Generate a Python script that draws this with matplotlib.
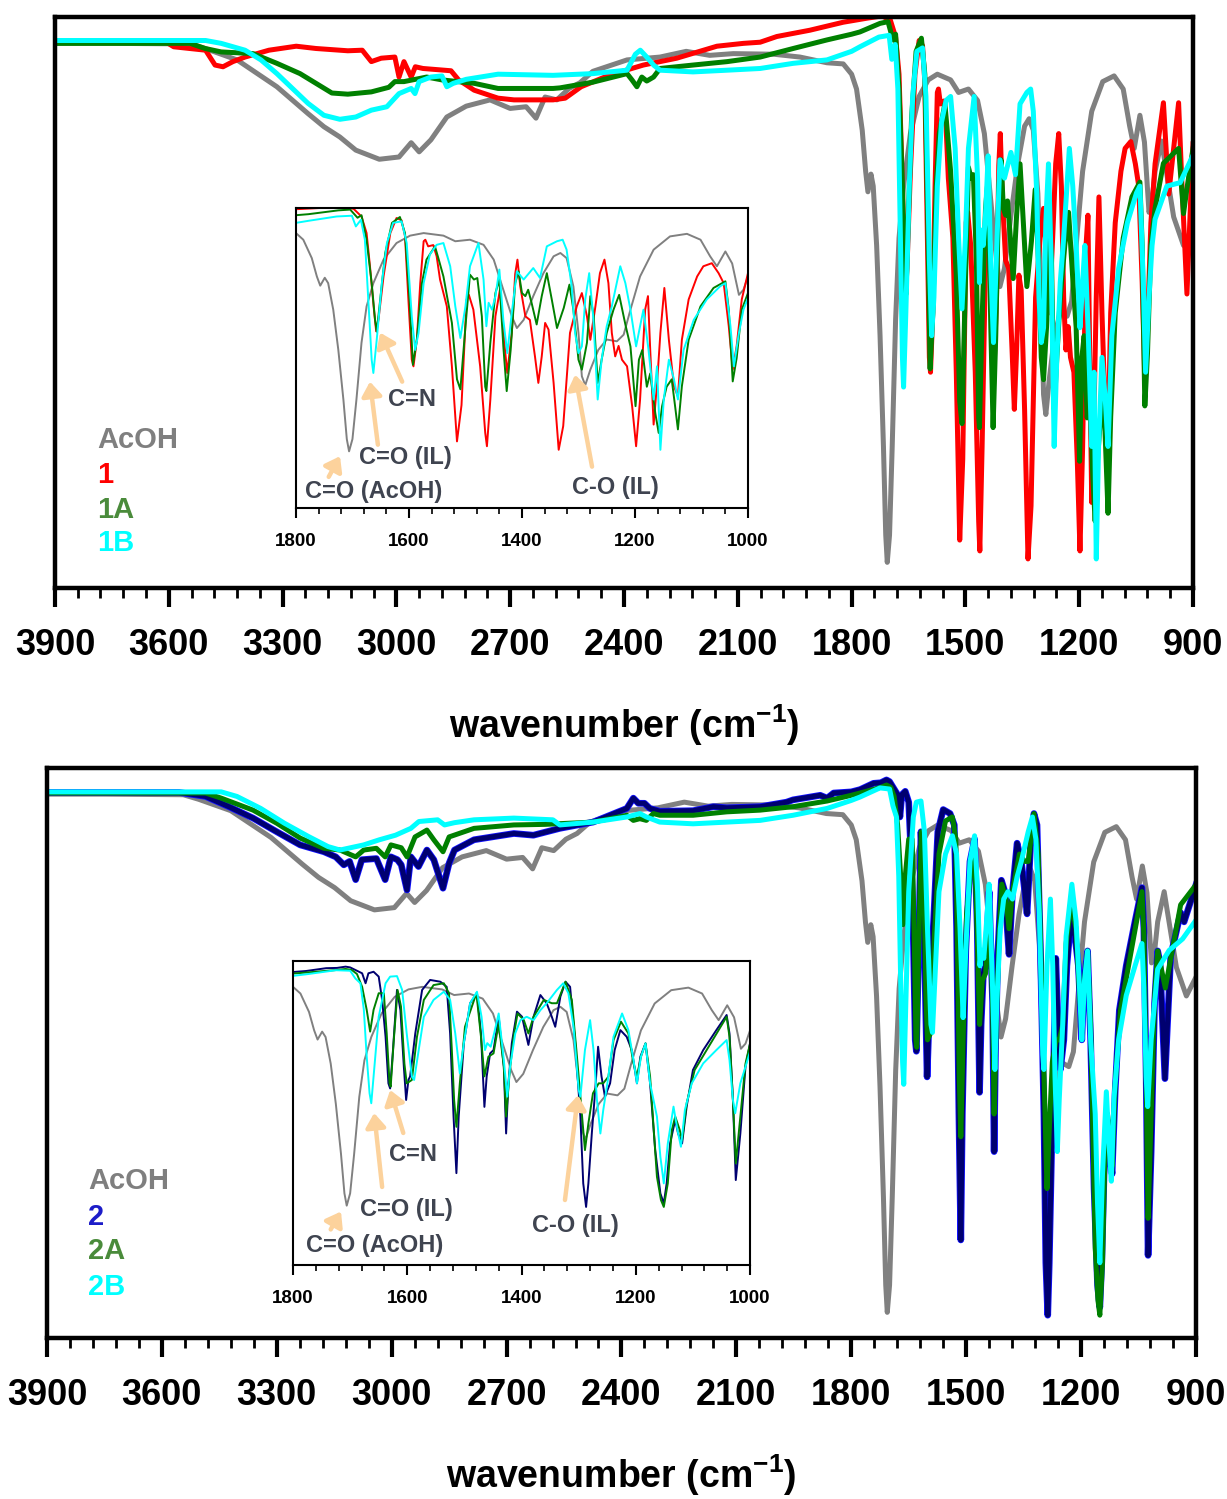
import matplotlib
matplotlib.use('Agg')
import matplotlib.pyplot as plt
import matplotlib.patheffects as pe
from matplotlib.ticker import MultipleLocator

# ---- fonts ----
plt.rcParams['font.family'] = ['Liberation Sans', 'DejaVu Sans']
plt.rcParams['font.weight'] = 'bold'
plt.rcParams['mathtext.fontset'] = 'custom'
plt.rcParams['mathtext.rm'] = 'Liberation Sans:bold'
plt.rcParams['mathtext.bf'] = 'Liberation Sans:bold'

# ---- colours ----
C_ACOH = '#808080'
C_RED = '#ff0000'
C_GREEN = '#008000'
C_CYAN = '#00ffff'
C_NAVY = '#000070'
C_ARROW = '#fcd29c'
C_NOTE = '#3f4450'

# ---- spectra (wavenumber, transmittance in % of plot height) ----
ACOH = [(3900, 95.4), (3750, 95.4), (3544, 95.3), (3504, 94.5), (3420, 92.5), (3315, 87.8), (3233, 83.1),
        (3191, 80.8), (3149, 79.0), (3107, 76.7), (3045, 75.1), (2993, 75.5), (2961, 78.0), (2940, 76.4),
        (2909, 78.5), (2867, 82.5), (2816, 84.4), (2753, 85.5), (2700, 84.0), (2658, 84.3), (2632, 82.3),
        (2608, 86.0), (2577, 85.5), (2545, 87.5), (2516, 88.5), (2482, 90.5), (2392, 92.5), (2305, 93.0),
        (2236, 94.0), (2174, 93.3), (2112, 93.6), (2006, 93.5), (1936, 93.0), (1865, 92.0), (1822, 91.8),
        (1800, 90.0), (1787, 87.4), (1772, 80.2), (1763, 73.0), (1757, 69.4), (1749, 72.5), (1743, 70.4),
        (1734, 60.0), (1725, 44.2), (1716, 24.7), (1710, 9.3), (1706, 4.5), (1700, 9.3), (1693, 24.7),
        (1684, 47.0), (1675, 61.3), (1663, 70.4), (1645, 79.6), (1622, 86.1), (1598, 89.0), (1574, 90.0),
        (1539, 89.0), (1518, 86.8), (1492, 87.4), (1468, 85.4), (1450, 79.6), (1433, 67.8), (1418, 57.4),
        (1409, 52.8), (1397, 56.0), (1380, 65.3), (1362, 74.3), (1344, 80.9), (1332, 82.2), (1321, 80.2),
        (1309, 69.1), (1300, 50.9), (1294, 33.9), (1288, 30.4), (1279, 36.5), (1265, 44.2), (1250, 48.3),
        (1232, 47.6), (1220, 50.2), (1208, 60.0), (1191, 73.0), (1167, 83.5), (1138, 88.7), (1108, 89.7),
        (1084, 87.4), (1067, 80.9), (1055, 77.0), (1040, 82.8), (1028, 78.1), (1016, 65.8), (1008, 67.8),
        (1000, 73.0), (983, 78.3), (951, 65.0), (925, 60.0), (900, 63.3)]

S1 = [(3900, 95.7), (3609, 95.7), (3587, 94.8), (3503, 94.2), (3478, 91.6), (3457, 91.3), (3431, 92.2),
      (3399, 93.0), (3336, 94.2), (3264, 94.9), (3212, 94.5), (3128, 94.1), (3090, 94.2), (3066, 92.2),
      (3040, 92.8), (3004, 93.0), (2993, 89.5), (2980, 92.2), (2961, 89.5), (2950, 91.3), (2930, 91.0),
      (2856, 90.6), (2836, 89.0), (2795, 87.2), (2732, 85.8), (2690, 85.5), (2587, 85.5), (2555, 85.8),
      (2513, 87.8), (2440, 89.8), (2349, 91.6), (2261, 92.8), (2200, 94.0), (2155, 94.9), (2085, 95.4),
      (2041, 95.6), (1997, 96.6), (1910, 97.7), (1822, 99.1), (1760, 99.8), (1720, 100.2), (1698, 99.5),
      (1684, 96.5), (1675, 90.0), (1669, 77.0), (1662, 60.0), (1658, 51.5), (1654, 56.0), (1645, 73.0),
      (1633, 90.0), (1622, 95.9), (1613, 95.0), (1607, 88.7), (1601, 64.0), (1595, 40.4), (1592, 37.8),
      (1586, 48.3), (1580, 70.4), (1574, 86.8), (1571, 87.4), (1566, 84.8), (1557, 85.3), (1551, 80.9),
      (1545, 71.8), (1533, 61.3), (1524, 37.8), (1515, 8.4), (1507, 22.6), (1498, 64.0), (1494, 65.8),
      (1486, 60.0), (1474, 37.8), (1465, 11.7), (1462, 6.5), (1456, 24.7), (1447, 57.4), (1439, 67.8),
      (1430, 44.2), (1426, 35.2), (1418, 50.9), (1412, 74.0), (1408, 79.6), (1403, 69.1), (1394, 57.4),
      (1386, 56.0), (1377, 41.7), (1371, 31.3), (1365, 41.7), (1359, 54.8), (1353, 52.2), (1344, 31.3),
      (1335, 5.1), (1327, 14.4), (1315, 50.9), (1303, 61.3), (1294, 66.5), (1285, 57.4), (1279, 48.2),
      (1270, 61.3), (1262, 74.3), (1254, 79.6), (1247, 70.4), (1241, 50.9), (1235, 41.7), (1229, 45.8),
      (1223, 40.4), (1214, 37.8), (1205, 22.2), (1198, 6.5), (1191, 24.7), (1182, 60.0), (1177, 65.3),
      (1173, 44.2), (1167, 15.0), (1161, 30.8), (1155, 50.9), (1148, 68.5), (1140, 48.2), (1131, 30.0),
      (1124, 26.0), (1117, 48.2), (1105, 64.0), (1090, 73.0), (1079, 77.0), (1064, 78.2), (1052, 74.3),
      (1043, 70.4), (1034, 53.5), (1027, 36.5), (1020, 45.8), (1011, 64.0), (1000, 74.3), (978, 85.0),
      (964, 69.0), (938, 85.0), (930, 72.0), (916, 51.5), (905, 70.0), (900, 77.8)]

S1A = [(3900, 95.4), (3544, 95.4), (3504, 94.5), (3462, 93.9), (3378, 93.6), (3315, 91.9), (3254, 90.1),
       (3212, 88.4), (3170, 86.7), (3128, 86.5), (3066, 86.9), (3020, 87.7), (3004, 88.7), (2980, 88.7),
       (2920, 89.5), (2880, 89.0), (2795, 88.4), (2732, 87.5), (2587, 87.5), (2569, 87.6), (2482, 88.6),
       (2392, 90.1), (2379, 89.0), (2366, 87.8), (2353, 89.5), (2340, 88.8), (2322, 89.5), (2305, 91.0),
       (2218, 91.6), (2128, 92.2), (2041, 93.0), (1954, 94.5), (1865, 96.0), (1800, 97.0), (1778, 97.4),
       (1725, 98.9), (1704, 99.2), (1691, 96.0), (1684, 97.0), (1675, 87.4), (1666, 70.4), (1660, 56.0),
       (1657, 51.4), (1651, 63.7), (1642, 82.2), (1630, 94.0), (1616, 96.3), (1607, 90.0), (1599, 64.0),
       (1593, 38.4), (1586, 48.3), (1577, 70.4), (1569, 79.6), (1554, 84.8), (1548, 80.2), (1539, 73.0),
       (1524, 54.8), (1515, 32.7), (1509, 28.8), (1500, 53.5), (1492, 73.7), (1485, 71.8), (1479, 72.4),
       (1471, 57.4), (1465, 29.8), (1463, 28.1), (1456, 47.0), (1447, 66.5), (1440, 71.8), (1433, 45.6),
       (1427, 28.1), (1420, 44.2), (1412, 70.4), (1406, 75.0), (1400, 66.5), (1394, 65.3), (1389, 67.8),
       (1383, 62.7), (1374, 54.2), (1365, 65.3), (1356, 74.3), (1347, 63.7), (1338, 52.8), (1326, 60.7),
       (1316, 69.8), (1309, 60.0), (1300, 40.4), (1294, 36.5), (1285, 47.0), (1279, 65.3), (1273, 57.4),
       (1266, 31.3), (1259, 40.4), (1250, 50.9), (1238, 60.0), (1228, 65.8), (1217, 54.2), (1208, 45.6),
       (1199, 22.2), (1193, 40.4), (1187, 44.2), (1179, 29.8), (1173, 35.0), (1164, 19.4), (1158, 11.7),
       (1152, 22.2), (1144, 29.8), (1135, 32.7), (1129, 22.2), (1124, 13.1), (1117, 30.0), (1105, 48.2),
       (1084, 61.3), (1061, 68.5), (1040, 71.1), (1034, 60.0), (1027, 31.9), (1020, 41.1), (1011, 60.0),
       (1000, 66.5), (978, 74.4), (938, 77.0), (925, 65.6), (916, 70.0), (900, 77.0)]

S1B = [(3900, 95.9), (3503, 95.9), (3462, 95.4), (3399, 94.2), (3357, 92.5), (3315, 90.1), (3274, 87.5),
       (3233, 84.9), (3191, 82.8), (3149, 82.1), (3107, 82.5), (3066, 83.7), (3025, 84.3), (3014, 85.1),
       (2993, 86.6), (2961, 87.5), (2951, 86.6), (2940, 88.7), (2909, 89.5), (2880, 89.7), (2867, 87.8),
       (2850, 88.4), (2816, 89.1), (2732, 90.0), (2587, 89.8), (2482, 90.1), (2392, 90.7), (2370, 93.5),
       (2357, 94.2), (2340, 93.0), (2322, 91.6), (2305, 90.7), (2218, 90.4), (2128, 90.7), (2041, 91.0),
       (1954, 91.9), (1865, 92.5), (1800, 94.0), (1778, 94.8), (1728, 96.5), (1701, 96.8), (1694, 92.6),
       (1685, 95.2), (1678, 87.4), (1672, 64.0), (1666, 40.4), (1663, 35.2), (1657, 48.3), (1648, 70.4),
       (1639, 86.1), (1628, 94.0), (1613, 94.6), (1604, 86.1), (1595, 57.4), (1589, 44.2), (1583, 50.9),
       (1574, 70.4), (1563, 81.6), (1551, 85.4), (1539, 86.1), (1527, 77.0), (1518, 61.3), (1509, 48.9),
       (1500, 61.3), (1492, 77.0), (1477, 86.1), (1468, 71.8), (1463, 53.5), (1459, 62.7), (1453, 60.0),
       (1447, 65.3), (1440, 75.7), (1433, 56.0), (1426, 43.0), (1418, 58.7), (1409, 75.0), (1397, 71.8),
       (1380, 76.3), (1368, 72.4), (1356, 84.8), (1338, 86.8), (1328, 87.4), (1321, 83.5), (1312, 69.1),
       (1306, 50.9), (1300, 43.0), (1294, 45.6), (1288, 64.0), (1281, 74.3), (1274, 57.4), (1266, 24.8),
       (1259, 40.4), (1250, 53.5), (1241, 61.3), (1226, 77.0), (1217, 70.4), (1208, 60.0), (1198, 45.6),
       (1191, 53.5), (1185, 60.0), (1176, 44.2), (1167, 24.8), (1161, 37.8), (1155, 5.1), (1149, 24.8),
       (1140, 40.4), (1131, 32.7), (1124, 24.8), (1114, 44.2), (1096, 56.0), (1073, 64.0), (1049, 69.2),
       (1040, 70.4), (1031, 53.5), (1025, 37.8), (1016, 50.9), (1008, 60.0), (1000, 64.6), (969, 70.4),
       (934, 71.0), (900, 75.8)]

S2 = [(3900, 95.7), (3555, 95.7), (3486, 95.0), (3425, 93.2), (3362, 91.2), (3300, 88.8), (3239, 86.5),
      (3177, 85.3), (3146, 84.4), (3125, 83.0), (3110, 83.6), (3094, 80.4), (3078, 83.9), (3040, 84.1),
      (3017, 80.4), (3002, 84.4), (2985, 83.9), (2975, 83.0), (2960, 78.6), (2950, 84.4), (2930, 82.7),
      (2908, 85.6), (2890, 83.9), (2866, 78.9), (2850, 83.3), (2836, 85.6), (2785, 87.4), (2681, 88.5),
      (2630, 88.2), (2561, 89.4), (2474, 90.5), (2386, 92.9), (2369, 94.7), (2356, 93.8), (2340, 93.8),
      (2326, 92.9), (2300, 92.4), (2213, 92.5), (2160, 93.2), (2125, 93.0), (2038, 93.2), (1969, 94.0),
      (1952, 94.4), (1881, 95.2), (1863, 94.7), (1846, 95.6), (1800, 95.8), (1777, 96.2), (1742, 97.3),
      (1723, 97.4), (1708, 97.9), (1700, 97.6), (1688, 96.3), (1679, 95.3), (1673, 91.4), (1668, 95.3),
      (1659, 95.9), (1650, 94.0), (1644, 84.9), (1638, 70.5), (1633, 52.3), (1630, 50.3), (1625, 65.3),
      (1618, 88.8), (1612, 80.9), (1606, 58.8), (1602, 45.8), (1598, 53.6), (1595, 55.0), (1586, 71.8),
      (1574, 88.8), (1560, 92.7), (1542, 92.0), (1531, 90.0), (1525, 71.8), (1519, 39.3), (1514, 17.2),
      (1510, 39.3), (1501, 68.0), (1490, 83.6), (1478, 87.5), (1471, 71.8), (1465, 43.1), (1461, 55.0),
      (1455, 64.0), (1449, 65.3), (1440, 78.3), (1431, 58.8), (1427, 32.7), (1423, 52.3), (1417, 68.0),
      (1408, 80.3), (1399, 78.3), (1394, 73.1), (1388, 67.3), (1379, 78.3), (1367, 86.8), (1356, 83.6),
      (1347, 78.3), (1341, 74.4), (1332, 86.2), (1323, 92.0), (1315, 90.0), (1306, 68.0), (1297, 39.3),
      (1292, 13.2), (1287, 4.0), (1283, 13.2), (1277, 32.7), (1271, 49.7), (1266, 66.6), (1260, 55.0),
      (1254, 47.1), (1245, 52.3), (1237, 65.3), (1227, 73.1), (1216, 70.5), (1207, 65.3), (1198, 52.3),
      (1192, 62.7), (1183, 67.9), (1175, 52.3), (1166, 26.2), (1157, 9.3), (1151, 5.4), (1146, 13.2),
      (1140, 28.8), (1131, 38.0), (1126, 32.7), (1119, 28.8), (1111, 43.2), (1100, 57.5), (1082, 65.3),
      (1059, 73.1), (1041, 79.0), (1036, 71.8), (1030, 45.8), (1025, 14.5), (1017, 32.7), (1008, 58.8),
      (1000, 67.9), (994, 66.0), (981, 45.5), (966, 67.0), (940, 74.6), (931, 73.0), (900, 79.5)]

S2A = [(3900, 95.6), (3486, 95.6), (3445, 94.7), (3362, 92.6), (3300, 90.3), (3239, 87.7), (3177, 85.9),
       (3135, 85.6), (3094, 84.4), (3073, 85.6), (3040, 85.9), (3017, 84.4), (3002, 86.5), (2975, 86.0),
       (2960, 84.4), (2939, 87.9), (2908, 89.1), (2890, 87.4), (2866, 85.3), (2850, 87.9), (2785, 89.4),
       (2681, 90.0), (2600, 90.1), (2474, 90.5), (2386, 91.7), (2369, 90.8), (2352, 91.1), (2335, 90.8),
       (2317, 92.0), (2300, 91.7), (2213, 91.7), (2125, 92.3), (2038, 92.6), (1952, 93.2), (1863, 94.2),
       (1800, 95.2), (1777, 95.6), (1723, 96.6), (1708, 97.0), (1697, 96.6), (1688, 95.0), (1679, 90.0),
       (1671, 81.0), (1665, 72.5), (1659, 81.0), (1650, 87.5), (1641, 87.5), (1636, 71.8), (1631, 52.3),
       (1629, 51.0), (1624, 68.0), (1617, 88.8), (1611, 82.3), (1605, 60.0), (1601, 52.3), (1592, 53.6),
       (1583, 70.5), (1571, 84.9), (1554, 90.7), (1536, 91.4), (1527, 87.5), (1522, 65.3), (1518, 45.8),
       (1514, 35.3), (1508, 52.3), (1499, 74.4), (1479, 87.5), (1471, 70.5), (1465, 55.0), (1458, 62.7),
       (1449, 64.0), (1440, 75.7), (1431, 58.8), (1427, 39.3), (1421, 56.2), (1414, 70.5), (1407, 79.6),
       (1396, 77.0), (1388, 71.8), (1379, 78.3), (1361, 84.9), (1347, 83.6), (1338, 83.6), (1323, 92.0),
       (1312, 84.9), (1304, 65.3), (1294, 39.3), (1289, 26.2), (1283, 36.6), (1275, 48.4), (1265, 52.3),
       (1257, 52.3), (1248, 54.9), (1239, 69.2), (1226, 76.4), (1213, 71.8), (1204, 60.1), (1198, 55.0),
       (1191, 62.7), (1183, 67.9), (1175, 55.0), (1163, 15.8), (1156, 6.7), (1151, 4.0), (1144, 13.2),
       (1137, 34.0), (1131, 39.3), (1123, 34.0), (1119, 30.1), (1111, 44.5), (1097, 57.5), (1076, 65.3),
       (1041, 78.3), (1036, 70.5), (1030, 45.8), (1025, 21.0), (1017, 39.3), (1008, 60.0), (1000, 67.9),
       (980, 61.4), (940, 76.0), (900, 79.5)]

S2B = [(3900, 95.8), (3445, 95.8), (3404, 95.0), (3342, 92.9), (3280, 90.3), (3218, 88.0), (3166, 86.2),
       (3135, 85.6), (3073, 86.5), (3032, 87.4), (2990, 88.2), (2950, 89.4), (2929, 90.6), (2880, 90.9),
       (2862, 90.0), (2836, 90.4), (2785, 90.9), (2681, 91.2), (2579, 90.9), (2561, 90.0), (2474, 90.5),
       (2386, 91.4), (2352, 92.0), (2335, 91.4), (2300, 90.5), (2213, 90.2), (2125, 90.5), (2038, 90.8),
       (1952, 91.7), (1863, 92.9), (1800, 94.3), (1777, 94.9), (1725, 96.5), (1700, 96.3), (1691, 93.3),
       (1682, 91.4), (1676, 81.0), (1671, 62.7), (1666, 48.4), (1663, 44.5), (1659, 54.9), (1650, 78.3),
       (1638, 91.4), (1630, 94.0), (1618, 94.2), (1609, 88.8), (1601, 71.8), (1592, 55.0), (1588, 53.6),
       (1580, 65.3), (1571, 78.3), (1554, 84.9), (1536, 88.1), (1525, 84.9), (1516, 71.8), (1508, 56.2),
       (1501, 68.0), (1490, 83.6), (1478, 88.1), (1470, 78.3), (1464, 65.3), (1460, 68.0), (1454, 66.6),
       (1448, 71.8), (1440, 79.6), (1431, 61.4), (1425, 47.1), (1420, 58.8), (1411, 71.8), (1402, 77.0),
       (1391, 78.3), (1379, 77.0), (1367, 80.9), (1356, 83.6), (1338, 88.8), (1327, 91.4), (1318, 87.5),
       (1309, 74.4), (1300, 49.7), (1297, 47.1), (1289, 65.3), (1280, 77.0), (1274, 65.3), (1268, 45.8),
       (1262, 32.7), (1257, 41.8), (1248, 54.9), (1239, 70.5), (1224, 79.6), (1213, 73.1), (1204, 61.4),
       (1198, 52.3), (1191, 62.7), (1183, 67.9), (1175, 52.3), (1163, 39.3), (1157, 23.6), (1151, 13.2),
       (1144, 28.8), (1134, 43.2), (1127, 34.0), (1121, 27.5), (1114, 42.0), (1102, 52.3), (1082, 60.1),
       (1059, 65.3), (1041, 69.2), (1036, 61.4), (1030, 45.8), (1026, 40.6), (1017, 52.3), (1008, 58.8),
       (1000, 64.7), (970, 68.0), (935, 70.0), (900, 73.3)]

# legend labels per panel
LABELS_1 = ['AcOH', '1', '1A', '1B']
LABELS_2 = ['AcOH', '2', '2A', '2B']
LABEL_COLORS_1 = ['#7f7f7f', '#ff0000', '#4a8b3b', '#00ffff']
LABEL_COLORS_2 = ['#7f7f7f', '#1c1cc8', '#4a8b3b', '#00ffff']

# peak notes in inset data coords: text, text pos, arrow tail, arrow tip
NOTES_1 = [('C=N', (1595, 24.8), (1612, 31.8), (1651, 51.0)),
           ('C=O (IL)', (1607, 2.1), (1655, 7.1), (1669, 31.8)),
           ('C=O (AcOH)', (1662, -11.3), (1742, -5.5), (1722, 2.6)),
           ('C-O (IL)', (1235, -9.7), (1276, -1.5), (1306, 34.5))]
NOTES_2 = [('C=N', (1590, 24.3), (1607, 32.9), (1630, 49.7)),
           ('C=O (IL)', (1602, 2.8), (1644, 11.8), (1658, 40.7)),
           ('C=O (AcOH)', (1658, -10.9), (1734, -4.8), (1716, 2.2)),
           ('C-O (IL)', (1305, -3.1), (1324, 6.7), (1301, 47.7))]


def draw_series(ax, series, colors, lw, navy_edge):
    for data, col in zip(series, colors):
        wn, tr = zip(*data)
        line, = ax.plot(wn, tr, color=col, lw=lw, solid_joinstyle='round')
        if navy_edge and col == C_NAVY:
            line.set_path_effects([pe.Stroke(linewidth=lw + 1.2, foreground='#1010ff'), pe.Normal()])


def make_panel(rect, inset_rect, inset_ylim, series, colors, labels, label_colors, legend_x, legend_y, notes):
    ax = fig.add_axes(rect)
    draw_series(ax, series, colors, 3.6, True)
    ax.set_xlim(3900, 900)
    ax.set_ylim(0, 100)
    ax.set_yticks([])
    ax.xaxis.set_major_locator(MultipleLocator(300))
    ax.xaxis.set_minor_locator(MultipleLocator(60))
    ax.tick_params(axis='x', which='major', direction='out', length=14, width=3, labelsize=26, pad=15)
    ax.tick_params(axis='x', which='minor', direction='out', length=7, width=2)
    for lab in ax.get_xticklabels():
        lab.set_fontweight('bold')
    for sp in ax.spines.values():
        sp.set_linewidth(3.2)
    ax.set_xlabel(r'wavenumber (cm$^{-1}$)', fontsize=27, fontweight='bold', labelpad=28)

    # inset zoom of the fingerprint region
    ax_in = fig.add_axes(inset_rect)
    draw_series(ax_in, series, colors, 1.4, False)
    ax_in.set_xlim(1800, 1000)
    ax_in.set_ylim(*inset_ylim)
    ax_in.set_yticks([])
    ax_in.xaxis.set_major_locator(MultipleLocator(200))
    ax_in.xaxis.set_minor_locator(MultipleLocator(40))
    ax_in.tick_params(axis='x', which='major', direction='out', length=7, width=1.5, labelsize=13.5, pad=11)
    ax_in.tick_params(axis='x', which='minor', direction='out', length=4, width=1.2)
    for sp in ax_in.spines.values():
        sp.set_linewidth(1.5)

    for text, txy, tail, tip in notes:
        ax_in.annotate('', xy=tip, xytext=tail,
                       arrowprops=dict(arrowstyle='-|>,head_length=0.42,head_width=0.3', color=C_ARROW,
                                       lw=3.2, mutation_scale=20, shrinkA=0, shrinkB=0))
        ax_in.text(txy[0], txy[1], text, fontsize=17, fontweight='bold', color=C_NOTE,
                   ha='center', va='center')

    for lab, col, y in zip(labels, label_colors, legend_y):
        fig.text(legend_x, y, lab, fontsize=21, fontweight='bold', color=col, ha='left', va='center')
    return ax, ax_in


fig = plt.figure(figsize=(12.27, 14.99), dpi=100)

make_panel([0.0448, 0.6077, 0.9275, 0.3809], [0.2412, 0.6611, 0.3684, 0.2001], (-17.7, 99.8),
           [ACOH, S1, S1A, S1B], [C_ACOH, C_RED, C_GREEN, C_CYAN],
           LABELS_1, LABEL_COLORS_1, 0.0791, [0.7065, 0.6831, 0.6598, 0.6378], NOTES_1)

make_panel([0.0383, 0.1074, 0.9364, 0.3803], [0.2388, 0.1561, 0.3725, 0.2028], (-18.7, 100.1),
           [ACOH, S2, S2A, S2B], [C_ACOH, C_NAVY, C_GREEN, C_CYAN],
           LABELS_2, LABEL_COLORS_2, 0.0717, [0.2121, 0.1881, 0.1654, 0.1414], NOTES_2)

fig.savefig('out.png', dpi=100)
